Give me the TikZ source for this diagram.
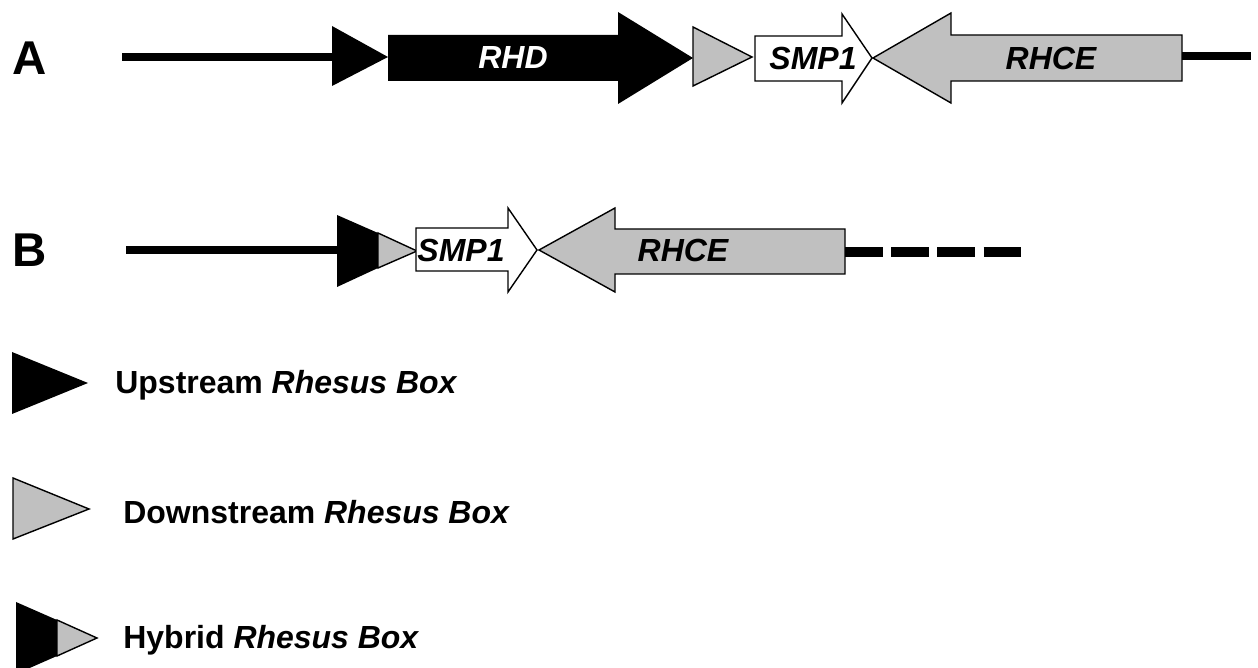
\documentclass[tikz,border=0pt]{standalone}
\usepackage{fontspec}
\setmainfont{Liberation Sans}
\definecolor{boxgrey}{RGB}{192,192,192}
\tikzset{
  dnaline/.style={line width=5pt},
  upbox/.style={fill=black},
  downbox/.style={fill=boxgrey, draw=black, line width=0.8pt, line join=miter},
  gene/.style={draw=black, line width=0.8pt, line join=miter},
  genelabel/.style={inner sep=0pt, font=\fontsize{18.2pt}{21pt}\selectfont\bfseries\itshape},
  legendlabel/.style={inner sep=0pt, anchor=west, font=\fontsize{18.2pt}{21pt}\selectfont\bfseries},
  rowlabel/.style={inner sep=0pt, font=\fontsize{27pt}{31pt}\selectfont\bfseries}
}
\begin{document}
\begin{tikzpicture}[x=0.02cm, y=-0.02cm]
        \useasboundingbox (0,0) rectangle (1258,668);
        % Row A
        \node[rowlabel] (labA) at (30,58) {A};
        \draw[dnaline] (122,57) -- (333,57);
        \fill[upbox] (332,26) -- (388,57) -- (332,86) -- cycle;
        \fill[upbox] (388,35) -- (618,35) -- (618,12) -- (693,58) -- (618,104) -- (618,81) -- (388,81) -- cycle;
        \filldraw[downbox] (693,27) -- (752,57) -- (693,86) -- cycle;
        \filldraw[gene, fill=white] (755,36) -- (842,36) -- (842,14) -- (872,58) -- (842,103) -- (842,81) -- (755,81) -- cycle;
        \filldraw[gene, fill=boxgrey] (873,58) -- (951,13) -- (951,35) -- (1182,35) -- (1182,81) -- (951,81) -- (951,103) -- cycle;
        \draw[dnaline] (1182,56) -- (1251,56);
        \node[genelabel, text=white] (rhdA) at (513,58) {RHD};
        \node[genelabel] (smpA) at (813,58) {SMP1};
        \node[genelabel] (rhceA) at (1051,58) {RHCE};
        % Row B
        \node[rowlabel] (labB) at (30,250) {B};
        \draw[dnaline] (126,250) -- (338,250);
        \fill[upbox] (337,215) -- (378,233) -- (378,268) -- (337,287) -- cycle;
        \filldraw[downbox] (378,233) -- (417,251) -- (378,268) -- cycle;
        \filldraw[gene, fill=white] (416,228) -- (508,228) -- (508,208) -- (537,250) -- (508,292) -- (508,271) -- (416,271) -- cycle;
        \filldraw[gene, fill=boxgrey] (539,250) -- (615,208) -- (615,229) -- (845,229) -- (845,274) -- (615,274) -- (615,292) -- cycle;
        \draw[dnaline, line width=5.5pt, dash pattern=on 21.5pt off 4.8pt] (845,252) -- (1022,252);
        \node[genelabel] (smpB) at (461,250) {SMP1};
        \node[genelabel] (rhceB) at (683,250) {RHCE};
        % Legend
        \fill[upbox] (12,352) -- (88,383) -- (12,414) -- cycle;
        \node[legendlabel] (upleg) at (115,385) {Upstream \textit{Rhesus Box}};
        \filldraw[downbox] (13,478) -- (89,509) -- (13,539) -- cycle;
        \node[legendlabel] (downleg) at (123,512) {Downstream \textit{Rhesus Box}};
        \fill[upbox] (16,602) -- (57,620) -- (57,656) -- (16,674) -- cycle;
        \filldraw[downbox] (57,620) -- (97,638) -- (57,656) -- cycle;
        \node[legendlabel] (hybleg) at (123,640) {Hybrid \textit{Rhesus Box}};
    \end{tikzpicture}
\end{document}
